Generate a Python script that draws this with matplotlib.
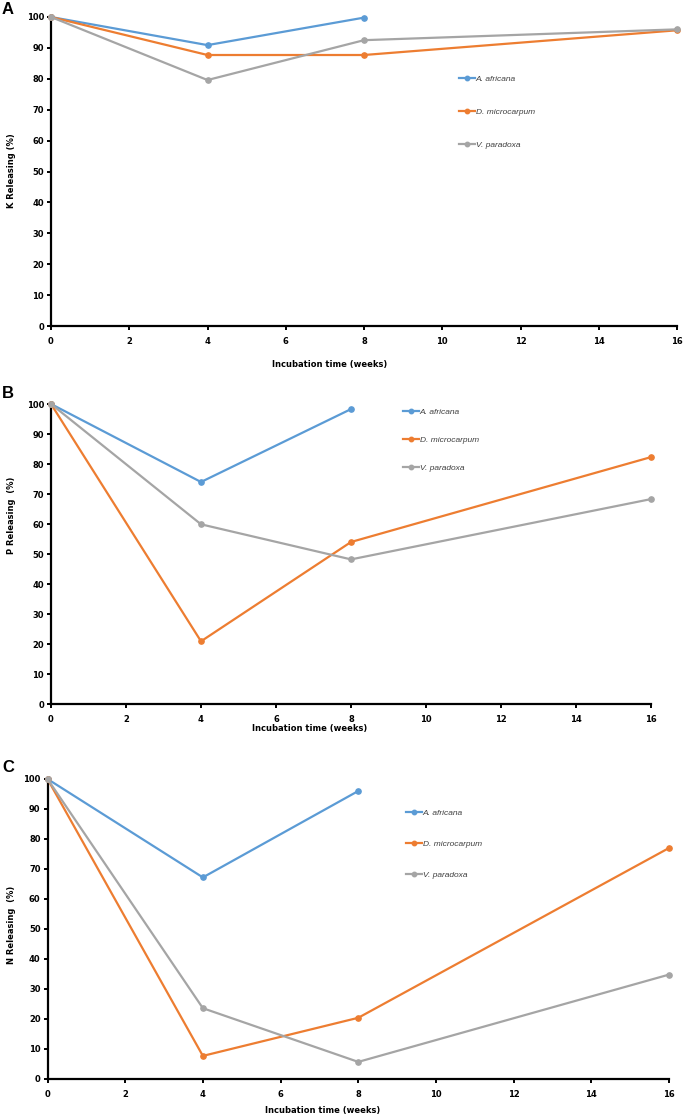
import matplotlib
matplotlib.use("Agg")
import matplotlib.pyplot as plt
from matplotlib.lines import Line2D

# incubation weeks
weeks_af = [0, 4, 8]
weeks = [0, 4, 8, 16]
species = ["A. africana", "D. microcarpum", "V. paradoxa"]
colors = ["#5B9BD5", "#ED7D31", "#A5A5A5"]

# K releasing (%)
k_af = [100, 90.9, 99.8]
k_dm = [100, 87.7, 87.7, 95.7]
k_vp = [100, 79.6, 92.5, 96.0]

# P releasing (%)
p_af = [100, 74.0, 98.3]
p_dm = [100, 20.9, 54.0, 82.3]
p_vp = [100, 59.9, 48.2, 68.3]

# N releasing (%)
n_af = [100, 67.2, 96.0]
n_dm = [100, 7.7, 20.4, 77.0]
n_vp = [100, 23.6, 5.7, 34.8]

W, H = 685, 1117
fig = plt.figure(figsize=(W / 100, H / 100), dpi=100)

tick_font = dict(family="DejaVu Sans", weight="bold", size=6)
label_font = dict(family="DejaVu Sans", weight="bold", size=6)

panels = [
    # letter, ylabel, data, axes px (left, top, right, bottom), legend px (x, y), row gap, xlabel px, ylabel y, letter y
    ("A", "K Releasing (%)", (k_af, k_dm, k_vp), (51, 17, 677, 326), (459, 112), 3.0, (330, 364), 171, 9),
    ("B", "P Releasing  (%)", (p_af, p_dm, p_vp), (51, 404, 651, 704), (403, 440), 2.45, (310, 729), 515, 393),
    ("C", "N Releasing  (%)", (n_af, n_dm, n_vp), (47.5, 779, 669, 1079), (406, 844), 2.8, (323, 1111), 925, 768),
]

for letter, ylab, (af, dm, vp), (l, t, r, b), (lx, ly), gap, (xlx, xly), yly, lety in panels:
    ax = fig.add_axes([l / W, 1 - b / H, (r - l) / W, (b - t) / H])
    for xs, ys, c, name in zip([weeks_af, weeks, weeks], [af, dm, vp], colors, species):
        ax.plot(xs, ys, color=c, lw=1.6, marker="o", ms=3.8, label=name,
                clip_on=False, zorder=3)
    ax.set_xlim(0, 16)
    ax.set_ylim(0, 100)
    ax.set_xticks(range(0, 17, 2))
    ax.set_yticks(range(0, 101, 10))
    for s in ["top", "right"]:
        ax.spines[s].set_visible(False)
    for s in ["left", "bottom"]:
        ax.spines[s].set_linewidth(1.6)
        ax.spines[s].set_color("black")
    ax.tick_params(axis="y", length=3, width=1.4, pad=2)
    ax.tick_params(axis="x", length=3, width=1.4, pad=5)
    for lab in ax.get_xticklabels() + ax.get_yticklabels():
        lab.set_fontproperties(matplotlib.font_manager.FontProperties(**tick_font))

    handles = [Line2D([], [], color=c, lw=1.6, marker="o", ms=3.2) for c in colors]
    leg = ax.legend(handles, species, loc="center left",
                    bbox_to_anchor=(lx / W, 1 - ly / H),
                    bbox_transform=fig.transFigure, frameon=False,
                    borderpad=0, borderaxespad=0, handlelength=1.9,
                    handletextpad=0.1, labelspacing=gap,
                    prop=dict(family="Liberation Sans", style="italic", size=6))
    for txt in leg.get_texts():
        txt.set_color("#404040")

    fig.text(xlx / W, 1 - xly / H, "Incubation time (weeks)", ha="center", va="center", **label_font)
    fig.text(12 / W, 1 - yly / H, ylab, ha="center", va="center", rotation=90, **label_font)
    fig.text(2 / W, 1 - lety / H, letter, ha="left", va="center",
             family="Liberation Sans", weight="bold", size=12)

fig.savefig("out.png", dpi=100)
